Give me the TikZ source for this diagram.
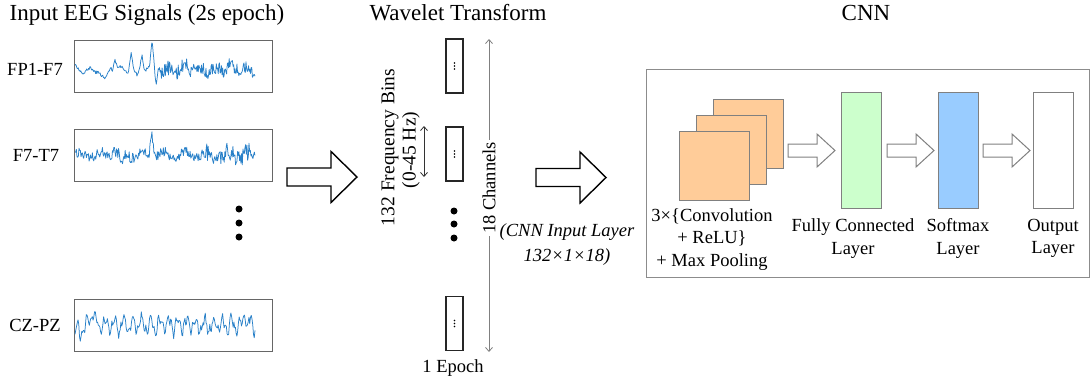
\documentclass[tikz,border=0pt]{standalone}
\usepackage{fontspec}
\setmainfont{Liberation Serif}
\usetikzlibrary{arrows.meta}
\definecolor{sigblue}{RGB}{40,128,200}
\definecolor{convorange}{RGB}{255,204,153}
\definecolor{fcgreen}{RGB}{204,255,204}
\definecolor{smblue}{RGB}{153,204,255}
\begin{document}
\begin{tikzpicture}[x=1pt,y=-1pt,
  titletext/.style={font=\fontsize{23}{27}\selectfont, inner sep=0, anchor=base},
  lbl/.style={font=\fontsize{18.5}{22.5}\selectfont, inner sep=0, align=center},
  rlbl/.style={font=\fontsize{19.5}{22.5}\selectfont, inner sep=0, rotate=90},
  sigbox/.style={draw=black!60, line width=1.3pt, minimum width=198, minimum height=52, inner sep=0, anchor=north west},
  sig/.style={sigblue, line width=0.75pt, line join=round},
  wbox/.style={draw=black!85, line width=1.3pt, minimum width=17, minimum height=54, inner sep=0},
  dot/.style={circle, fill=black, inner sep=0, minimum size=7},
  layerbox/.style={draw=black!50, line width=1pt, inner sep=0, anchor=north west},
  bigarrow/.pic={\draw[black, line width=1.4pt, line join=miter]
     (0,-9) -- (44,-9) -- (44,-25.5) -- (70,0) -- (44,25.5) -- (44,9) -- (0,9) -- cycle;},
  smallarrow/.pic={\draw[black!50, line width=1pt, line join=miter]
     (0,-6.5) -- (29,-6.5) -- (29,-16.5) -- (47,0) -- (29,16.5) -- (29,6.5) -- (0,6.5) -- cycle;},
  dimarrow/.style={line width=0.8pt, {Straight Barb[length=4pt,width=7pt]}-{Straight Barb[length=4pt,width=7pt]}}
]
\useasboundingbox (0,0) rectangle (1091,386);
\pgfmathsetseed{7}

% ---------- titles ----------
\node[titletext] (t1) at (147,20.5) {Input EEG Signals (2s epoch)};
\node[titletext] (t2) at (458,20.5) {Wavelet Transform};
\node[titletext] (t3) at (866,20.5) {CNN};

% ---------- EEG signals ----------
\node[sigbox] (s1) at (74,40) {};
\node[sigbox] (s2) at (74,129) {};
\node[sigbox] (s3) at (74,299) {};
\node[lbl] (l1) at (35,69) {FP1-F7};
\node[lbl] (l2) at (36,155) {F7-T7};
\node[lbl] (l3) at (35,325) {CZ-PZ};

\draw[sig] plot[domain=75:255, samples=280] (\x, {69 + 3*sin(\x*23) + 2*sin(\x*9)
   + 15*max(0,1-abs(\x-105)/6) - 10*max(0,1-abs(\x-115)/2.5)
   - 20*max(0,1-abs(\x-131)/3) + 8*max(0,1-abs(\x-137)/3)
   - 14*max(0,1-abs(\x-142)/2.5) - 24*max(0,1-abs(\x-152)/2.5)
   + 18*max(0,1-abs(\x-156)/2) + rand*ifthenelse(\x>158,7,1.5)});
\draw[sig] plot[domain=75:255, samples=270] (\x, {155 + 3*sin(\x*17)
   - 23*max(0,1-abs(\x-152)/3) + 14*max(0,1-abs(\x-122)/3)
   - 8*max(0,1-abs(\x-114)/3)
   + rand*ifthenelse(and(\x>205,\x<250),9,5)});
\draw[sig] plot[domain=75:255, samples=240] (\x, {325 + 7*sin(\x*40) + 4*sin((\x-75)*85)
   - 18*max(0,1-abs(\x-93)/4) + 15*max(0,1-abs(\x-80)/3)
   - 16*max(0,1-abs(\x-245)/2.5) + rand*4});

\node[dot] (ld1) at (239,209) {};
\node[dot] (ld2) at (239,223) {};
\node[dot] (ld3) at (239,237) {};

% ---------- arrow 1 ----------
\pic (a1) at (287,177) {bigarrow};

% ---------- wavelet ----------
\node[rlbl] (fb1) at (390,147.5) {132 Frequency Bins};
\node[rlbl] (fb2) at (411,150) {(0-45 Hz)};
\coordinate (fbtop) at (424,126);
\coordinate (fbbot) at (424,177);
\draw[dimarrow, black!80] (fbtop) -- (fbbot);

\node[wbox] (w1) at (454.5,66) {};
\node[wbox] (w2) at (454.5,154) {};
\node[wbox] (w3) at (454.5,323.5) {};
\foreach \n in {w1,w2,w3}{
  \foreach \d in {-3,0,3} \fill (\n.center) ++(0,\d) circle (0.9);
}
\node[dot] (wd1) at (454,211) {};
\node[dot] (wd2) at (454,224) {};
\node[dot] (wd3) at (454,238) {};

\coordinate (chtop) at (489,39);
\coordinate (chbot) at (489,352);
\draw[dimarrow, black!50] (chtop) -- (chbot);
\node[lbl, rotate=90, fill=white, inner xsep=2pt, inner ysep=1pt] (ch) at (489,188) {18 Channels};
\node[lbl] (ep) at (453,368) {1 Epoch};

% ---------- arrow 2 ----------
\pic (a2) at (536,177.5) {bigarrow};
\node[lbl, font=\fontsize{18.5}{25}\selectfont\itshape] (inl) at (567,244.5) {(CNN Input Layer\\132×1×18)};

% ---------- CNN ----------
\node[draw=black!45, line width=1.3pt, minimum width=443, minimum height=208, inner sep=0, anchor=north west] (cnn) at (646,69) {};
\node[layerbox, fill=convorange, minimum width=70, minimum height=69] (c3) at (713,99) {};
\node[layerbox, fill=convorange, minimum width=70, minimum height=69] (c2) at (696,115) {};
\node[layerbox, fill=convorange, minimum width=70, minimum height=69] (c1) at (679,131) {};
\node[layerbox, fill=fcgreen, minimum width=40, minimum height=116] (fc) at (841,92) {};
\node[layerbox, fill=smblue, minimum width=40, minimum height=116] (sm) at (938,92) {};
\node[layerbox, fill=white, minimum width=40, minimum height=116] (out) at (1033,92) {};

\pic (sa1) at (788,150.5) {smallarrow};
\pic (sa2) at (887,150.5) {smallarrow};
\pic (sa3) at (983,150.5) {smallarrow};

\node[lbl] (cl) at (712,239.5) {3×\{Convolution\\+ ReLU\}\\+ Max Pooling};
\node[lbl] (fcl) at (853,238.5) {Fully Connected\\Layer};
\node[lbl] (sml) at (958,238.5) {Softmax\\Layer};
\node[lbl] (outl) at (1053,238.5) {Output\\Layer};
\end{tikzpicture}
\end{document}
